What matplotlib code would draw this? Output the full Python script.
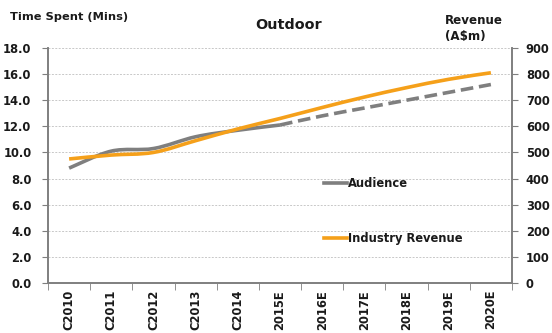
'''Outdoor time spent vs industry revenue, actuals and estimates.'''

import numpy as np
import matplotlib.pyplot as plt
from matplotlib.path import Path
import matplotlib.patches as mpatches
from matplotlib.lines import Line2D

years = ['C2010', 'C2011', 'C2012', 'C2013', 'C2014', '2015E',
         '2016E', '2017E', '2018E', '2019E', '2020E']
audience = [8.8, 10.1, 10.3, 11.2, 11.7, 12.1, 12.8, 13.4, 14.0, 14.6, 15.2]
revenue = [475, 490, 500, 545, 590, 630, 672, 712, 748, 780, 805]
last_actual = 5  # index of 2015E, where the audience line turns dashed

GREY = '#7f7f7f'
ORANGE = '#f5a01a'
BOLD = dict(fontweight='bold', color='#1a1a1a')
TICK_SIZE = 8.3


def smooth_path(x, y):
    '''Bezier path through the points, Catmull-Rom style.'''
    pts = np.column_stack([x, y]).astype(float)
    verts = [pts[0]]
    codes = [Path.MOVETO]
    for i in range(len(pts) - 1):
        p0 = pts[max(i - 1, 0)]
        p1 = pts[i]
        p2 = pts[i + 1]
        p3 = pts[min(i + 2, len(pts) - 1)]
        verts += [p1 + (p2 - p0) / 6, p2 - (p3 - p1) / 6, p2]
        codes += [Path.CURVE4] * 3
    return Path(verts, codes)


def add_curve(ax, x, y, color, ls='-'):
    patch = mpatches.PathPatch(smooth_path(x, y), facecolor='none',
                               edgecolor=color, lw=2.6, linestyle=ls,
                               capstyle='butt', zorder=3)
    ax.add_patch(patch)


def main():
    fig = plt.figure(figsize=(5.52, 3.33), dpi=100)
    ax = fig.add_axes([0.087, 0.150, 0.8405, 0.706])
    ax2 = ax.twinx()

    x = np.arange(len(years))
    ax.set_xlim(-0.5, len(years) - 0.5)
    ax.set_ylim(0, 18)
    ax2.set_ylim(0, 900)

    # Revenue curve drawn on the right-hand axis
    add_curve(ax2, x, revenue, ORANGE)
    # Audience: solid for actuals, dashed for the estimates
    add_curve(ax, x[:last_actual + 1], audience[:last_actual + 1], GREY)
    add_curve(ax, x[last_actual:], audience[last_actual:], GREY,
              ls=(0, (3.5, 1.6)))

    ax.set_yticks(np.arange(0, 18.1, 2))
    ax.set_yticklabels(['%.1f' % v for v in np.arange(0, 18.1, 2)],
                       fontsize=TICK_SIZE, **BOLD)
    ax2.set_yticks(np.arange(0, 901, 100))
    ax2.set_yticklabels([str(v) for v in range(0, 901, 100)],
                        fontsize=TICK_SIZE, **BOLD)

    ax.set_xticks(x)
    ax.set_xticklabels(years, rotation=90, fontsize=TICK_SIZE, **BOLD)
    ax.set_xticks(np.arange(-0.5, len(years)), minor=True)
    ax.tick_params(axis='x', which='major', length=0, pad=5)
    ax.tick_params(axis='x', which='minor', length=5, color=GREY)
    ax.tick_params(axis='y', length=4, color=GREY, pad=8)
    ax2.tick_params(axis='y', length=4, color=GREY, pad=6)

    ax.grid(axis='y', color='#c8c8c8', lw=0.7, ls=(0, (2, 1.5)))
    ax.set_axisbelow(True)
    for a in (ax, ax2):
        a.spines['top'].set_visible(False)
        for side in ('left', 'right', 'bottom'):
            a.spines[side].set_color(GREY)
            a.spines[side].set_linewidth(1.2)

    handles = [Line2D([], [], color=GREY, lw=2.6),
               Line2D([], [], color=ORANGE, lw=2.6)]
    leg = ax.legend(handles, ['Audience', 'Industry Revenue'],
                    loc='upper left', bbox_to_anchor=(0.585, 0.472),
                    frameon=False, handlelength=2.0, handletextpad=0.1,
                    labelspacing=3.65, borderaxespad=0,
                    prop=dict(size=TICK_SIZE, weight='bold'))
    for t in leg.get_texts():
        t.set_color('#1a1a1a')

    fig.text(0.523, 0.925, 'Outdoor', ha='center', va='center',
             fontsize=10.4, **BOLD)
    fig.text(0.018, 0.95, 'Time Spent (Mins)', ha='left', va='center',
             fontsize=8.2, **BOLD)
    fig.text(0.806, 0.915, 'Revenue\n(A$m)', ha='left', va='center',
             fontsize=8.6, linespacing=1.35, **BOLD)

    fig.savefig('out.png', dpi=100, facecolor='white')


if __name__ == '__main__':
    main()
